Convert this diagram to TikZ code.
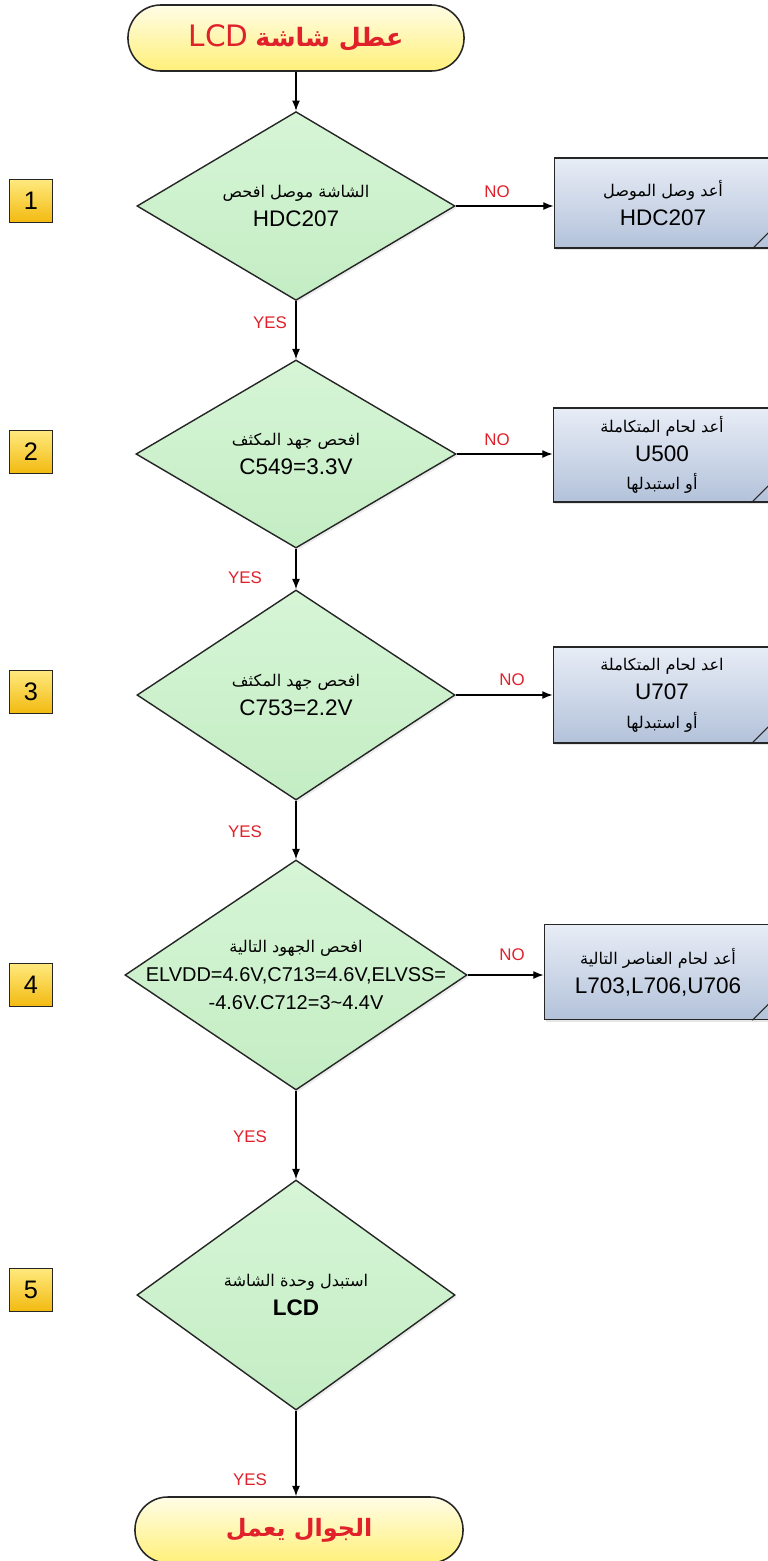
\documentclass[tikz,border=0pt]{standalone}
\usepackage{fontspec}
\setmainfont{Liberation Sans}
\newfontfamily\arabicfont[Script=Arabic]{DejaVu Sans}
\TeXXeTstate=1
\usepackage{xcolor}
\usetikzlibrary{arrows.meta,shapes.geometric,shadows}
\definecolor{termtop}{HTML}{FFFDE6}
\definecolor{termbot}{HTML}{FFF07A}
\definecolor{testtop}{HTML}{D6F5D6}
\definecolor{testbot}{HTML}{C4EDC4}
\definecolor{fixtop}{HTML}{E8EDF6}
\definecolor{fixbot}{HTML}{B3C2DA}
\definecolor{numtop}{HTML}{FFE97E}
\definecolor{numbot}{HTML}{F2BA10}
\definecolor{lblred}{HTML}{E0202A}
\newcommand{\artxt}[1]{{\arabicfont\beginR #1\endR}}
\newcommand{\arsize}{\fontsize{11.5}{21}\selectfont}

\begin{document}
\begin{tikzpicture}[x=0.025cm,y=-0.025cm,>={Latex[length=2.6mm,width=2mm]},
  term/.style={rectangle,rounded corners=0.82cm,draw=black!85,line width=1.1pt,top color=termtop,bottom color=termbot,minimum width=8.4cm,minimum height=1.65cm,text=lblred},
  test/.style={diamond,draw=black!85,line width=1pt,top color=testtop,bottom color=testbot,inner sep=0pt,align=center,font=\fontsize{16}{21}\selectfont,drop shadow={opacity=.15,shadow xshift=1.5pt,shadow yshift=-1.5pt}},
  fix/.style={rectangle,draw=black!85,line width=1pt,top color=fixtop,bottom color=fixbot,minimum width=5.43cm,align=center,font=\fontsize{16}{20.5}\selectfont,drop shadow={opacity=.2,shadow xshift=1.5pt,shadow yshift=-1.5pt}},
  stepno/.style={rectangle,draw=black!85,line width=1pt,top color=numtop,bottom color=numbot,minimum size=1.075cm,inner sep=0pt,font=\fontsize{18}{18}\selectfont},
  lbl/.style={text=lblred,font=\fontsize{12}{12}\selectfont,inner sep=1pt}]
\clip (0,0) rectangle (768,1561);

\node[term] (start) at (296,38) {\artxt{{\arabicfont\fontsize{18}{18}\selectfont\bfseries عطل شاشة}\hspace{5pt}\beginL{\fontsize{21}{21}\selectfont LCD}\endL}};

\node[test,minimum width=7.95cm,minimum height=4.68cm] (d1) at (296,206) {{\arsize\artxt{الشاشة موصل افحص}}\\HDC207};
\node[test,minimum width=8cm,minimum height=4.7cm] (d2) at (296,454) {{\arsize\artxt{افحص جهد المكثف}}\\C549=3.3V};
\node[test,minimum width=7.95cm,minimum height=5.25cm] (d3) at (296,695) {{\arsize\artxt{افحص جهد المكثف}}\\C753=2.2V};
\node[test,minimum width=8.55cm,minimum height=5.75cm,
  label={[align=center,font=\fontsize{14.2}{20}\selectfont]center:{\arsize\arabicfont\beginR افحص الجهود التالية\endR}\\ELVDD=4.6V,C713=4.6V,ELVSS=\\-4.6V.C712=3\textasciitilde4.4V}] (d4) at (296,975) {};
\node[test,minimum width=7.95cm,minimum height=5.75cm] (d5) at (296,1295) {{\arsize\artxt{استبدل وحدة الشاشة}}\\\textbf{LCD}};

\node[term,minimum width=8.2cm] (stop) at (299,1530) {\artxt{{\arabicfont\fontsize{17}{17}\selectfont\bfseries الجوال يعمل}}};

\node[fix,minimum height=2.25cm] (b1) at (663,203) {{\arsize\artxt{أعد وصل الموصل}}\\HDC207};
\node[fix,minimum height=2.35cm] (b2) at (662,455) {{\arsize\artxt{أعد لحام المتكاملة}}\\U500\\{\arsize\artxt{أو استبدلها}}};
\node[fix,minimum height=2.4cm] (b3) at (662,695) {{\arsize\artxt{اعد لحام المتكاملة}}\\U707\\{\arsize\artxt{أو استبدلها}}};
\node[fix,minimum width=5.68cm,minimum height=2.38cm] (b4) at (658,972) {{\arsize\artxt{أعد لحام العناصر التالية}}\\L703,L706,U706};

\foreach \b in {b1,b2,b3,b4}
  \draw[line width=0.8pt,black!85] ([xshift=-0.5cm]\b.south east) -- ([yshift=0.5cm]\b.south east);

\node[stepno] (n1) at (31,201) {1};
\node[stepno] (n2) at (31,452) {2};
\node[stepno] (n3) at (31,692) {3};
\node[stepno] (n4) at (31,985) {4};
\node[stepno] (n5) at (31,1290) {5};

\draw[->,line width=1pt] (start) -- (d1);
\draw[->,line width=1pt] (d1) -- (d2);
\draw[->,line width=1pt] (d2) -- (d3);
\draw[->,line width=1pt] (d3) -- (d4);
\draw[->,line width=1pt] (d4) -- (d5);
\draw[->,line width=1pt] (d5.south) -- (d5.south |- stop.north);

\draw[->,line width=1pt] (d1.east) -- (d1.east -| b1.west);
\draw[->,line width=1pt] (d2.east) -- (d2.east -| b2.west);
\draw[->,line width=1pt] (d3.east) -- (d3.east -| b3.west);
\draw[->,line width=1pt] (d4.east) -- (d4.east -| b4.west);

\node[lbl] (no1) at (497,192) {NO};
\node[lbl] (no2) at (497,440) {NO};
\node[lbl] (no3) at (512,680) {NO};
\node[lbl] (no4) at (512,955) {NO};

\node[lbl] (yes1) at (270,323) {YES};
\node[lbl] (yes2) at (245,578) {YES};
\node[lbl] (yes3) at (245,832) {YES};
\node[lbl] (yes4) at (250,1137) {YES};
\node[lbl] (yes5) at (250,1480) {YES};
\end{tikzpicture}
\end{document}
